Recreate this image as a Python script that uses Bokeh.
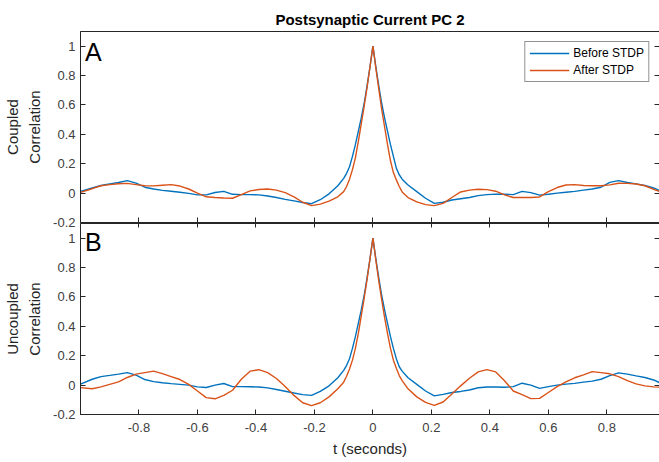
from bokeh.plotting import figure
from bokeh.layouts import column
from bokeh.models import FixedTicker, LinearAxis, Range1d, Label, CustomLabelingPolicy
from bokeh.embed import file_html
from bokeh.resources import INLINE

# ---- data ----
t = [-1.0, -0.96, -0.93, -0.90, -0.87, -0.84, -0.81, -0.78, -0.75, -0.72, -0.69, -0.66, -0.63,
     -0.60, -0.57, -0.54, -0.51, -0.48, -0.45, -0.42, -0.39, -0.36, -0.33, -0.30, -0.27, -0.24,
     -0.21, -0.18, -0.15, -0.12, -0.10, -0.09, -0.08, -0.07, -0.06, -0.05, -0.04, -0.03, -0.02,
     -0.01, 0.0, 0.01, 0.02, 0.03, 0.04, 0.05, 0.06, 0.07, 0.08, 0.09, 0.10, 0.12, 0.15, 0.18,
     0.21, 0.24, 0.27, 0.30, 0.33, 0.36, 0.39, 0.42, 0.45, 0.48, 0.51, 0.54, 0.57, 0.60, 0.63,
     0.66, 0.69, 0.72, 0.75, 0.78, 0.81, 0.84, 0.87, 0.90, 0.93, 0.96, 0.99]

coupled_before = [0.012, 0.035, 0.052, 0.063, 0.072, 0.085, 0.068, 0.04, 0.028, 0.019, 0.013, 0.006,
                  -0.002, -0.012, -0.012, 0.004, 0.012, -0.008, -0.01, -0.01, -0.012, -0.02, -0.03,
                  -0.043, -0.053, -0.064, -0.072, -0.045, -0.005, 0.05, 0.10, 0.135, 0.18, 0.25,
                  0.33, 0.42, 0.51, 0.61, 0.73, 0.86, 1.0,
                  0.86, 0.73, 0.61, 0.51, 0.42, 0.33, 0.25, 0.17, 0.125, 0.095, 0.055, 0.01,
                  -0.035, -0.07, -0.062, -0.047, -0.038, -0.03, -0.017, -0.01, -0.007, -0.008,
                  -0.01, 0.012, 0.003, -0.014, -0.008, 0.0, 0.006, 0.012, 0.02, 0.028, 0.04, 0.073,
                  0.085, 0.072, 0.063, 0.052, 0.035, 0.01]

coupled_after = [0.005, 0.03, 0.05, 0.058, 0.064, 0.066, 0.058, 0.05, 0.049, 0.054, 0.058, 0.048,
                 0.028, 0.0, -0.025, -0.03, -0.033, -0.035, -0.01, 0.015, 0.025, 0.028, 0.02, 0.003,
                 -0.025, -0.062, -0.085, -0.075, -0.055, -0.025, 0.01, 0.045, 0.095, 0.16, 0.24,
                 0.35, 0.47, 0.59, 0.72, 0.86, 1.0,
                 0.85, 0.71, 0.57, 0.45, 0.33, 0.22, 0.14, 0.09, 0.045, 0.008, -0.03, -0.06,
                 -0.078, -0.085, -0.07, -0.03, 0.008, 0.02, 0.026, 0.024, 0.013, -0.012, -0.03,
                 -0.03, -0.03, -0.026, 0.01, 0.038, 0.055, 0.058, 0.052, 0.05, 0.05, 0.056, 0.067,
                 0.066, 0.062, 0.05, 0.025, 0.005]

uncoupled_before = [0.007, 0.04, 0.058, 0.066, 0.075, 0.085, 0.068, 0.038, 0.024, 0.016, 0.01,
                    0.005, 0.0, -0.012, -0.016, 0.0, 0.011, -0.01, -0.01, -0.011, -0.013, -0.019,
                    -0.03, -0.042, -0.054, -0.065, -0.07, -0.043, -0.005, 0.05, 0.10, 0.135, 0.18,
                    0.25, 0.33, 0.42, 0.51, 0.61, 0.73, 0.86, 1.0,
                    0.86, 0.73, 0.61, 0.51, 0.42, 0.33, 0.25, 0.18, 0.125, 0.095, 0.05, 0.005,
                    -0.04, -0.073, -0.063, -0.05, -0.043, -0.033, -0.018, -0.013, -0.013, -0.015,
                    -0.01, 0.013, 0.0, -0.022, -0.01, 0.0, 0.007, 0.012, 0.02, 0.027, 0.04, 0.065,
                    0.083, 0.075, 0.063, 0.052, 0.035, 0.008]

uncoupled_after = [-0.017, -0.025, -0.012, 0.005, 0.022, 0.052, 0.075, 0.085, 0.095, 0.078, 0.058,
                   0.038, 0.005, -0.04, -0.085, -0.093, -0.07, -0.035, 0.04, 0.095, 0.105, 0.085,
                   0.045, -0.01, -0.07, -0.12, -0.14, -0.12, -0.08, -0.025, 0.02, 0.06, 0.11, 0.17,
                   0.25, 0.35, 0.47, 0.59, 0.72, 0.86, 1.0,
                   0.85, 0.71, 0.58, 0.46, 0.35, 0.25, 0.17, 0.115, 0.065, 0.03, -0.025, -0.08,
                   -0.118, -0.138, -0.115, -0.06, -0.005, 0.047, 0.09, 0.105, 0.09, 0.03, -0.04,
                   -0.065, -0.092, -0.09, -0.05, -0.01, 0.022, 0.05, 0.07, 0.092, 0.085, 0.077,
                   0.058, 0.03, 0.008, -0.005, -0.012, -0.015]

x_ticks = [-0.8, -0.6, -0.4, -0.2, 0, 0.2, 0.4, 0.6, 0.8]
x_tick_labels = ["-0.8", "-0.6", "-0.4", "-0.2", "0", "0.2", "0.4", "0.6", "0.8"]
y_ticks = [-0.2, 0, 0.2, 0.4, 0.6, 0.8, 1]
y_tick_labels = ["-0.2", "0", "0.2", "0.4", "0.6", "0.8", "1"]

series_names = ["Before STDP", "After STDP"]
title_text = "Postsynaptic Current PC 2"
panel_letters = ["A", "B"]
y_titles = ["Coupled\nCorrelation", "Uncoupled\nCorrelation"]
x_title = "t (seconds)"

# ---- style ----
BLUE = "#0072BD"
ORANGE = "#D95319"
AX = "#262626"
LBL = "#404040"
FONT = "Liberation Sans"
FW, FH = 579, 191
LEFT = 78
GAP = 8
LETTER_X = -0.985
LETTER_Y = [0.958, 0.972]

x_range = Range1d(-1.0, 0.98)


def style_axis(ax, labels=True, ticks=None, overrides=None):
    ax.ticker = FixedTicker(ticks=ticks)
    if overrides is not None:
        ax.major_label_overrides = overrides
    ax.major_tick_in = 5
    ax.major_tick_out = 0
    ax.minor_tick_line_color = None
    ax.axis_line_color = AX
    ax.major_tick_line_color = AX
    ax.major_label_text_font = FONT
    ax.major_label_text_color = LBL
    if labels:
        ax.major_label_text_font_size = "13px"
    else:
        ax.major_label_text_font_size = "1px"
        ax.major_label_standoff = 0
        ax.major_label_policy = CustomLabelingPolicy(code="return []")


def make_panel(before, after, ylabel, letter, letter_y, bottom, title=None):
    p = figure(frame_width=FW, frame_height=FH, x_range=x_range,
               y_range=Range1d(-0.2, 1.1), output_backend="svg",
               toolbar_location=None, title=title,
               min_border_left=LEFT, min_border_right=0,
               min_border_top=31 if title else 0,
               min_border_bottom=0 if bottom else GAP)
    p.grid.visible = False
    p.outline_line_color = AX
    p.outline_line_alpha = 1.0
    p.background_fill_color = "white"
    p.border_fill_color = "white"

    yover = dict(zip(y_ticks, y_tick_labels))
    xover = dict(zip(x_ticks, x_tick_labels))

    style_axis(p.yaxis[0], True, y_ticks, yover)
    p.yaxis.major_label_standoff = 5
    p.yaxis.axis_label = ylabel
    p.yaxis.axis_label_text_font = FONT
    p.yaxis.axis_label_text_font_size = "15px"
    p.yaxis.axis_label_text_font_style = "normal"
    p.yaxis.axis_label_text_color = AX
    p.yaxis.axis_label_standoff = 7
    p.yaxis.axis_label_text_line_height = 1.3

    style_axis(p.xaxis[0], bottom, x_ticks, xover)
    if bottom:
        p.xaxis.major_label_standoff = 8
        p.xaxis.axis_label = x_title
        p.xaxis.axis_label_text_font = FONT
        p.xaxis.axis_label_text_font_size = "15px"
        p.xaxis.axis_label_text_font_style = "normal"
        p.xaxis.axis_label_text_color = AX
        p.xaxis.axis_label_standoff = 5
        # overlap the gap below the upper panel so the frames share an edge
        p.margin = (-GAP, 0, 0, 0)
        p.border_fill_alpha = 0.0
        p.background_fill_alpha = 0.0
    else:
        # ticks below the shared edge point into the lower panel
        p.xaxis.major_tick_out = 5

    right_ax = LinearAxis()
    style_axis(right_ax, False, y_ticks)
    p.add_layout(right_ax, "right")

    kw1 = dict(legend_label=series_names[0]) if title else {}
    kw2 = dict(legend_label=series_names[1]) if title else {}
    p.line(t, before, line_color=BLUE, line_width=1.4, **kw1)
    p.line(t, after, line_color=ORANGE, line_width=1.4, **kw2)

    p.add_layout(Label(x=LETTER_X, y=letter_y, text=letter, text_font=FONT,
                       text_font_size="25px", text_color="black",
                       text_baseline="alphabetic"))

    if title:
        p.title.text_font = FONT
        p.title.text_font_size = "15px"
        p.title.text_font_style = "bold"
        p.title.text_color = "black"
        p.title.align = "center"
        p.title.standoff = 7
        lg = p.legend[0]
        lg.location = "top_right"
        lg.margin = 10
        lg.border_line_color = AX
        lg.border_line_width = 1
        lg.background_fill_color = "white"
        lg.background_fill_alpha = 1.0
        lg.label_text_font = FONT
        lg.label_text_font_size = "12px"
        lg.label_text_color = "black"
        lg.glyph_width = 40
        lg.glyph_height = 14
        lg.label_height = 14
        lg.label_standoff = 4
        lg.padding = 4
        lg.spacing = 3
    return p


p1 = make_panel(coupled_before, coupled_after, y_titles[0], panel_letters[0], LETTER_Y[0],
                False, title_text)
p2 = make_panel(uncoupled_before, uncoupled_after, y_titles[1], panel_letters[1], LETTER_Y[1],
                True)

layout = column(p1, p2, spacing=0)
open("out.html", "w").write(file_html(layout, INLINE))
